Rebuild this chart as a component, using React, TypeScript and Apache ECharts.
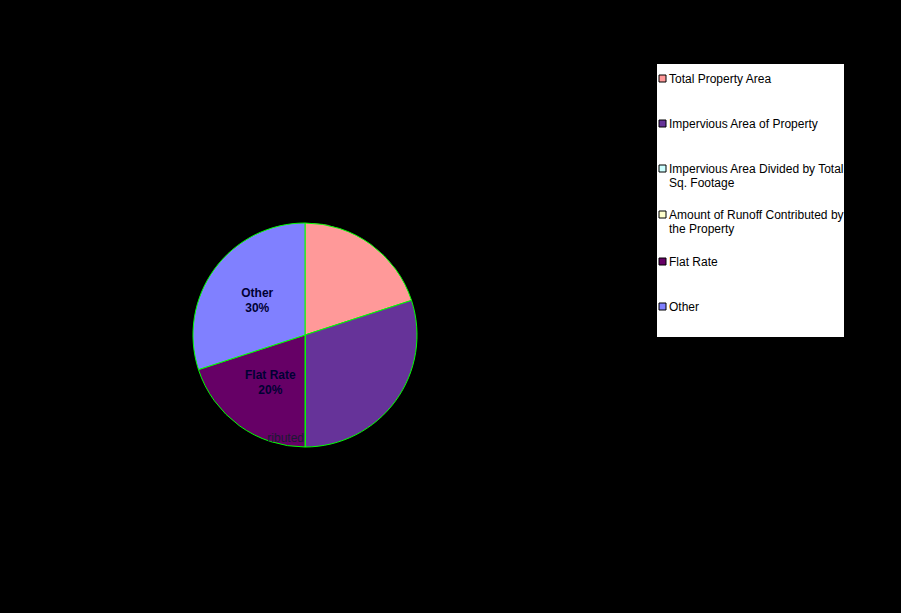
import React, { useEffect, useRef } from "react";
import * as echarts from "echarts";

const categories = [
  "Total Property Area",
  "Impervious Area of Property",
  "Impervious Area Divided by Total Sq. Footage",
  "Amount of Runoff Contributed by the Property",
  "Flat Rate",
  "Other",
];
const legendLines = [
  "Total Property Area",
  "Impervious Area of Property",
  "Impervious Area Divided by Total\nSq. Footage",
  "Amount of Runoff Contributed by\nthe Property",
  "Flat Rate",
  "Other",
];
const values = [20, 30, 0, 0, 20, 30];
const colors = ["#FF9999", "#663399", "#CCFFFF", "#FFFFCC", "#660066", "#8080FF"];
const labelShown = [false, false, false, false, true, true];
const legendTop = [79, 124, 169, 215, 262, 307];

export default function App() {
  const ref = useRef<HTMLDivElement>(null);
  useEffect(() => {
    document.body.style.margin = "0";
    const chart = echarts.init(ref.current!, null, { renderer: "svg" });
    const font = "'Liberation Sans', Arial, sans-serif";
    const graphic: any[] = [
      { type: "rect", shape: { x: 657, y: 64, width: 187, height: 273 }, style: { fill: "#fff" } },
    ];
    legendLines.forEach((t, i) => {
      graphic.push({
        type: "rect",
        shape: { x: 659, y: legendTop[i] - 4, width: 7, height: 7 },
        style: { fill: colors[i], stroke: "#000", lineWidth: 1 },
      });
      graphic.push({
        type: "text",
        x: 669,
        y: legendTop[i] - 7,
        style: { text: t, fill: "#000", font: "12px " + font, lineHeight: 14, textVerticalAlign: "top" },
      });
    });
    graphic.push({ type: "rect", shape: { x: 844, y: 60, width: 57, height: 290 }, style: { fill: "#000" }, z: 10 });
    graphic.push({
      type: "text",
      x: 304,
      y: 432,
      z: 5,
      style: { text: "ributed", fill: "#1a1a33", font: "12px " + font, align: "right", textVerticalAlign: "top" },
    });
    chart.setOption({
      animation: false,
      backgroundColor: "#000",
      graphic,
      series: [
        {
          type: "pie",
          center: [305, 335],
          radius: 112,
          startAngle: 90,
          clockwise: true,
          minShowLabelAngle: 0,
          itemStyle: { borderColor: "#00ff00", borderWidth: 1 },
          label: {
            position: "inside",
            formatter: (p: any) => p.name + "\n" + p.value + "%",
            color: "#000033",
            fontFamily: font,
            fontWeight: "bold",
            fontSize: 12,
            lineHeight: 15,
          },
          labelLine: { show: false },
          emphasis: { disabled: true },
          data: categories.map((c, i) => ({
            name: c,
            value: values[i],
            itemStyle: { color: colors[i] },
            label: { show: labelShown[i] },
          })),
        },
      ],
    });
    return () => chart.dispose();
  }, []);
  return <div ref={ref} style={{ width: 901, height: 613 }} />;
}
